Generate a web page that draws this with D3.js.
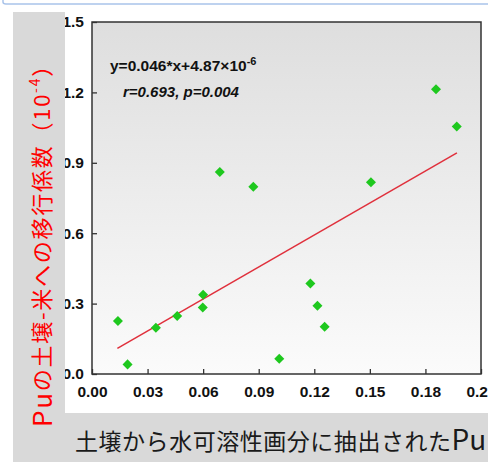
<!DOCTYPE html>
<html>
<head>
<meta charset="utf-8">
<script src="https://cdn.jsdelivr.net/npm/d3@7"></script>
<style>
  html, body { margin: 0; padding: 0; background: #fff; }
  svg { display: block; }
</style>
</head>
<body>
<svg id="chart"></svg>
<script>
// Water-soluble Pu fraction (x) vs soil-to-rice transfer factor (y, 10^-4)
const waterSolublePu = [0.014, 0.0192, 0.0345, 0.046, 0.060, 0.0598, 0.069, 0.0871, 0.1011, 0.1179, 0.1217, 0.1256, 0.1506, 0.1857, 0.1969];
const transferFactor = [0.226, 0.041, 0.197, 0.247, 0.338, 0.283, 0.861, 0.798, 0.065, 0.386, 0.291, 0.201, 0.817, 1.213, 1.055];

// fitted line, as drawn
const fitX = [0.0137, 0.197];
const fitY = [0.1095, 0.942];

const xTicks = [0, 0.03, 0.06, 0.09, 0.12, 0.15, 0.18, 0.21];
const yTicks = [0, 0.3, 0.6, 0.9, 1.2, 1.5];

const width = 488, height = 462;
const plot = { left: 92, right: 481, top: 22, bottom: 374 };

const svg = d3.select("#chart").attr("width", width).attr("height", height);

// background gradient of the plot area
const defs = svg.append("defs");
const grad = defs.append("linearGradient").attr("id", "bg").attr("x1", 0).attr("y1", 0).attr("x2", 0).attr("y2", 1);
grad.append("stop").attr("offset", "0%").attr("stop-color", "#dedede");
grad.append("stop").attr("offset", "100%").attr("stop-color", "#fbfbfb");

// top slide border
svg.append("path")
  .attr("d", `M3,0 V2 Q3,4 6,4 H${width}`)
  .attr("fill", "none")
  .attr("stroke", "#a9c3ea")
  .attr("stroke-width", 1.5);

const x = d3.scaleLinear().domain([0, 0.21]).range([plot.left, plot.right]);
const y = d3.scaleLinear().domain([0, 1.5]).range([plot.bottom, plot.top]);

svg.append("rect")
  .attr("x", plot.left).attr("y", plot.top)
  .attr("width", plot.right - plot.left).attr("height", plot.bottom - plot.top)
  .attr("fill", "url(#bg)");

// Axes (ticks pointing inward)
const tickFont = (g) => g.selectAll("text")
  .attr("font-family", "'Liberation Sans', Arial, sans-serif")
  .attr("font-weight", "bold")
  .attr("font-size", "15.5px")
  .attr("fill", "#111");

svg.append("g")
  .attr("transform", `translate(0,${plot.bottom})`)
  .call(d3.axisBottom(x).tickValues(xTicks).tickFormat(d3.format(".2f")).tickSize(-5).tickSizeOuter(0).tickPadding(12))
  .call((g) => g.select(".domain").remove())
  .call((g) => g.selectAll("line").attr("stroke", "#333").attr("stroke-width", 1.3))
  .call(tickFont);

svg.append("g")
  .attr("transform", `translate(${plot.left},0)`)
  .call(d3.axisLeft(y).tickValues(yTicks).tickFormat(d3.format(".1f")).tickSize(-5).tickSizeOuter(0).tickPadding(8))
  .call((g) => g.select(".domain").remove())
  .call((g) => g.selectAll("line").attr("stroke", "#333").attr("stroke-width", 1.3))
  .call(tickFont);

// frame
svg.append("rect")
  .attr("x", plot.left).attr("y", plot.top)
  .attr("width", plot.right - plot.left).attr("height", plot.bottom - plot.top)
  .attr("fill", "none")
  .attr("stroke", "#333")
  .attr("stroke-width", 1.5);

// regression line
svg.append("line")
  .attr("x1", x(fitX[0])).attr("y1", y(fitY[0]))
  .attr("x2", x(fitX[1])).attr("y2", y(fitY[1]))
  .attr("stroke", "#e0303c")
  .attr("stroke-width", 1.5);

// points
const points = waterSolublePu.map((v, i) => ({ x: v, y: transferFactor[i] }));
svg.selectAll("path.pt")
  .data(points)
  .enter()
  .append("path")
  .attr("class", "pt")
  .attr("transform", (d) => `translate(${x(d.x)},${y(d.y)})`)
  .attr("d", d3.symbol(d3.symbolDiamond2, 64))
  .attr("fill", "#1ec81e");

// annotations
const eq = svg.append("text")
  .attr("x", 110).attr("y", 71)
  .attr("font-family", "'Liberation Sans', Arial, sans-serif")
  .attr("font-weight", "bold")
  .attr("font-size", "15.5px")
  .attr("fill", "#111");
eq.append("tspan").text("y=0.046*x+4.87×10");
eq.append("tspan").attr("dy", -6).attr("font-size", "11px").text("-6");

svg.append("text")
  .attr("x", 123).attr("y", 97)
  .attr("font-family", "'Liberation Sans', Arial, sans-serif")
  .attr("font-weight", "bold")
  .attr("font-style", "italic")
  .attr("font-size", "15px")
  .attr("fill", "#111")
  .text("r=0.693, p=0.004");

// gray slide bands on top (they crop the y tick labels)
svg.append("rect").attr("x", 13).attr("y", 12).attr("width", 52).attr("height", height - 12).attr("fill", "#d9d9d9");
svg.append("rect").attr("x", 13).attr("y", 413).attr("width", width - 13).attr("height", height - 413).attr("fill", "#d9d9d9");

// x title (runs off the right edge like the reference)
const xt = svg.append("text")
  .attr("x", 75).attr("y", 450)
  .attr("font-family", "'Noto Sans CJK JP', sans-serif")
  .attr("fill", "#1a1a1a");
xt.append("tspan").attr("font-size", "23px").attr("textLength", 376).attr("lengthAdjust", "spacing")
  .text("土壌から水可溶性画分に抽出された");
xt.append("tspan").attr("font-size", "28px").text("Pu");

// y title
const yt = svg.append("text")
  .attr("transform", "translate(40,427) rotate(-90)")
  .attr("dominant-baseline", "central")
  .attr("font-family", "'Noto Sans CJK JP', sans-serif")
  .attr("fill", "#ff0000");
const ySpans = [
  { t: "Pu", fs: 26, dy: 0 },
  { t: "の土壌-米への移行係数（10", fs: 22, dy: 0 },
  { t: "-4", fs: 14, dy: -6 },
  { t: "）", fs: 22, dy: 6 }
];
yt.selectAll("tspan").data(ySpans).enter().append("tspan")
  .attr("font-size", (d) => d.fs + "px").attr("dy", (d) => d.dy).text((d) => d.t);
// spread the letters to cover the span the reference uses (427 -> 53)
const nChars = ySpans.reduce((s, d) => s + d.t.length, 0);
const spare = 374 - yt.node().getComputedTextLength();
yt.attr("letter-spacing", Math.max(0, spare / nChars) + "px");
</script>
</body>
</html>
